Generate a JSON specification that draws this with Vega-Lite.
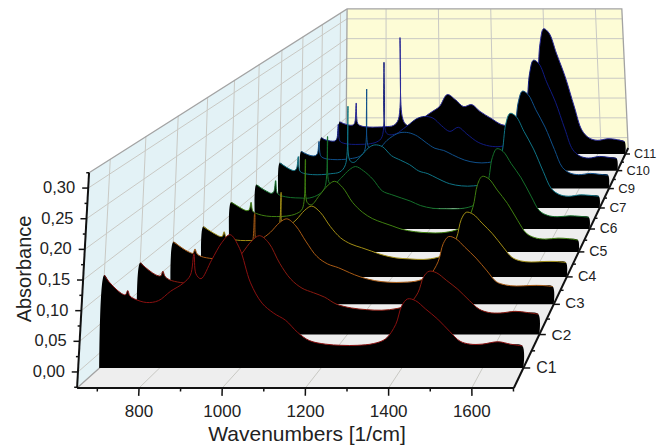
{"$schema":"https://vega.github.io/schema/vega-lite/v6.json","width":660,"height":447,"padding":0,"autosize":{"type":"none"},"background":"#ffffff","view":{"stroke":null},"config":{"text":{"font":"Liberation Sans"}},
"data":{"values":[
{"p":"left","w":651,"d":-0.55,"a":-0.0261},{"p":"left","w":651,"d":-0.55,"a":0.325},{"p":"left","w":651,"d":9.38,"a":0.325},{"p":"left","w":651,"d":9.38,"a":-0.0261},
{"p":"back","w":651,"d":9.38,"a":-0.0261},{"p":"back","w":651,"d":9.38,"a":0.325},{"p":"back","w":1701,"d":9.38,"a":0.325},{"p":"back","w":1701,"d":9.38,"a":-0.0261},
{"p":"floor","w":651,"d":-0.55,"a":-0.0261},{"p":"floor","w":1701,"d":-0.55,"a":-0.0261},{"p":"floor","w":1701,"d":9.38,"a":-0.0261},{"p":"floor","w":651,"d":9.38,"a":-0.0261},
{"p":"grid","id":"z0","w":651,"d":-0.55,"a":0},{"p":"grid","id":"z0","w":651,"d":9.38,"a":0},{"p":"grid","id":"z0","w":1701,"d":9.38,"a":0},
{"p":"grid","id":"z1","w":651,"d":-0.55,"a":0.05},{"p":"grid","id":"z1","w":651,"d":9.38,"a":0.05},{"p":"grid","id":"z1","w":1701,"d":9.38,"a":0.05},
{"p":"grid","id":"z2","w":651,"d":-0.55,"a":0.1},{"p":"grid","id":"z2","w":651,"d":9.38,"a":0.1},{"p":"grid","id":"z2","w":1701,"d":9.38,"a":0.1},
{"p":"grid","id":"z3","w":651,"d":-0.55,"a":0.15},{"p":"grid","id":"z3","w":651,"d":9.38,"a":0.15},{"p":"grid","id":"z3","w":1701,"d":9.38,"a":0.15},
{"p":"grid","id":"z4","w":651,"d":-0.55,"a":0.2},{"p":"grid","id":"z4","w":651,"d":9.38,"a":0.2},{"p":"grid","id":"z4","w":1701,"d":9.38,"a":0.2},
{"p":"grid","id":"z5","w":651,"d":-0.55,"a":0.25},{"p":"grid","id":"z5","w":651,"d":9.38,"a":0.25},{"p":"grid","id":"z5","w":1701,"d":9.38,"a":0.25},
{"p":"grid","id":"z6","w":651,"d":-0.55,"a":0.3},{"p":"grid","id":"z6","w":651,"d":9.38,"a":0.3},{"p":"grid","id":"z6","w":1701,"d":9.38,"a":0.3},
{"p":"grid","id":"d0","w":651,"d":0,"a":-0.0261},{"p":"grid","id":"d0","w":651,"d":0,"a":0.325},
{"p":"grid","id":"d1","w":651,"d":1,"a":-0.0261},{"p":"grid","id":"d1","w":651,"d":1,"a":0.325},
{"p":"grid","id":"d2","w":651,"d":2,"a":-0.0261},{"p":"grid","id":"d2","w":651,"d":2,"a":0.325},
{"p":"grid","id":"d3","w":651,"d":3,"a":-0.0261},{"p":"grid","id":"d3","w":651,"d":3,"a":0.325},
{"p":"grid","id":"d4","w":651,"d":4,"a":-0.0261},{"p":"grid","id":"d4","w":651,"d":4,"a":0.325},
{"p":"grid","id":"d5","w":651,"d":5,"a":-0.0261},{"p":"grid","id":"d5","w":651,"d":5,"a":0.325},
{"p":"grid","id":"d6","w":651,"d":6,"a":-0.0261},{"p":"grid","id":"d6","w":651,"d":6,"a":0.325},
{"p":"grid","id":"d7","w":651,"d":7,"a":-0.0261},{"p":"grid","id":"d7","w":651,"d":7,"a":0.325},
{"p":"grid","id":"d8","w":651,"d":8,"a":-0.0261},{"p":"grid","id":"d8","w":651,"d":8,"a":0.325},
{"p":"grid","id":"d9","w":651,"d":9,"a":-0.0261},{"p":"grid","id":"d9","w":651,"d":9,"a":0.325},
{"p":"grid","id":"w8","w":800,"d":-0.55,"a":-0.0261},{"p":"grid","id":"w8","w":800,"d":9.38,"a":-0.0261},{"p":"grid","id":"w8","w":800,"d":9.38,"a":0.325},
{"p":"grid","id":"w10","w":1000,"d":-0.55,"a":-0.0261},{"p":"grid","id":"w10","w":1000,"d":9.38,"a":-0.0261},{"p":"grid","id":"w10","w":1000,"d":9.38,"a":0.325},
{"p":"grid","id":"w12","w":1200,"d":-0.55,"a":-0.0261},{"p":"grid","id":"w12","w":1200,"d":9.38,"a":-0.0261},{"p":"grid","id":"w12","w":1200,"d":9.38,"a":0.325},
{"p":"grid","id":"w14","w":1400,"d":-0.55,"a":-0.0261},{"p":"grid","id":"w14","w":1400,"d":9.38,"a":-0.0261},{"p":"grid","id":"w14","w":1400,"d":9.38,"a":0.325},
{"p":"grid","id":"w16","w":1600,"d":-0.55,"a":-0.0261},{"p":"grid","id":"w16","w":1600,"d":9.38,"a":-0.0261},{"p":"grid","id":"w16","w":1600,"d":9.38,"a":0.325},
{"p":"edge","id":"e1","w":651,"d":-0.55,"a":0.325},{"p":"edge","id":"e1","w":651,"d":9.38,"a":0.325},{"p":"edge","id":"e1","w":1701,"d":9.38,"a":0.325},{"p":"edge","id":"e1","w":1701,"d":9.38,"a":-0.0261},
{"p":"edge","id":"e2","w":651,"d":-0.55,"a":-0.0261},{"p":"edge","id":"e2","w":651,"d":9.38,"a":-0.0261},{"p":"edge","id":"e2","w":651,"d":9.38,"a":0.325},
{"p":"axis","id":"ay","w":651,"d":-0.55,"a":-0.0261},{"p":"axis","id":"ay","w":651,"d":-0.55,"a":0.325},
{"p":"axis","id":"ax","w":651,"d":-0.55,"a":-0.0261},{"p":"axis","id":"ax","w":1701,"d":-0.55,"a":-0.0261},
{"p":"axis","id":"az","w":1701,"d":-0.55,"a":-0.0261},{"p":"axis","id":"az","w":1701,"d":9.38,"a":-0.0261},
{"p":"tick","id":"y0","w":651,"d":-0.55,"a":0},{"p":"tick","id":"y0","w":636,"d":-0.55,"a":0},
{"p":"tick","id":"y1","w":651,"d":-0.55,"a":0.05},{"p":"tick","id":"y1","w":636,"d":-0.55,"a":0.05},
{"p":"tick","id":"y2","w":651,"d":-0.55,"a":0.1},{"p":"tick","id":"y2","w":636,"d":-0.55,"a":0.1},
{"p":"tick","id":"y3","w":651,"d":-0.55,"a":0.15},{"p":"tick","id":"y3","w":636,"d":-0.55,"a":0.15},
{"p":"tick","id":"y4","w":651,"d":-0.55,"a":0.2},{"p":"tick","id":"y4","w":636,"d":-0.55,"a":0.2},
{"p":"tick","id":"y5","w":651,"d":-0.55,"a":0.25},{"p":"tick","id":"y5","w":636,"d":-0.55,"a":0.25},
{"p":"tick","id":"y6","w":651,"d":-0.55,"a":0.3},{"p":"tick","id":"y6","w":636,"d":-0.55,"a":0.3},
{"p":"tick","id":"ym0","w":651,"d":-0.55,"a":-0.025},{"p":"tick","id":"ym0","w":644,"d":-0.55,"a":-0.025},
{"p":"tick","id":"ym1","w":651,"d":-0.55,"a":0.025},{"p":"tick","id":"ym1","w":644,"d":-0.55,"a":0.025},
{"p":"tick","id":"ym2","w":651,"d":-0.55,"a":0.075},{"p":"tick","id":"ym2","w":644,"d":-0.55,"a":0.075},
{"p":"tick","id":"ym3","w":651,"d":-0.55,"a":0.125},{"p":"tick","id":"ym3","w":644,"d":-0.55,"a":0.125},
{"p":"tick","id":"ym4","w":651,"d":-0.55,"a":0.175},{"p":"tick","id":"ym4","w":644,"d":-0.55,"a":0.175},
{"p":"tick","id":"ym5","w":651,"d":-0.55,"a":0.225},{"p":"tick","id":"ym5","w":644,"d":-0.55,"a":0.225},
{"p":"tick","id":"ym6","w":651,"d":-0.55,"a":0.275},{"p":"tick","id":"ym6","w":644,"d":-0.55,"a":0.275},
{"p":"tick","id":"ym7","w":651,"d":-0.55,"a":0.325},{"p":"tick","id":"ym7","w":644,"d":-0.55,"a":0.325},
{"p":"tick","id":"x7","w":700,"d":-0.55,"a":-0.0261},{"p":"tick","id":"x7","w":700,"d":-0.55,"a":-0.032},
{"p":"tick","id":"x8","w":800,"d":-0.55,"a":-0.0261},{"p":"tick","id":"x8","w":800,"d":-0.55,"a":-0.039},
{"p":"tick","id":"x9","w":900,"d":-0.55,"a":-0.0261},{"p":"tick","id":"x9","w":900,"d":-0.55,"a":-0.032},
{"p":"tick","id":"x10","w":1000,"d":-0.55,"a":-0.0261},{"p":"tick","id":"x10","w":1000,"d":-0.55,"a":-0.039},
{"p":"tick","id":"x11","w":1100,"d":-0.55,"a":-0.0261},{"p":"tick","id":"x11","w":1100,"d":-0.55,"a":-0.032},
{"p":"tick","id":"x12","w":1200,"d":-0.55,"a":-0.0261},{"p":"tick","id":"x12","w":1200,"d":-0.55,"a":-0.039},
{"p":"tick","id":"x13","w":1300,"d":-0.55,"a":-0.0261},{"p":"tick","id":"x13","w":1300,"d":-0.55,"a":-0.032},
{"p":"tick","id":"x14","w":1400,"d":-0.55,"a":-0.0261},{"p":"tick","id":"x14","w":1400,"d":-0.55,"a":-0.039},
{"p":"tick","id":"x15","w":1500,"d":-0.55,"a":-0.0261},{"p":"tick","id":"x15","w":1500,"d":-0.55,"a":-0.032},
{"p":"tick","id":"x16","w":1600,"d":-0.55,"a":-0.0261},{"p":"tick","id":"x16","w":1600,"d":-0.55,"a":-0.039},
{"p":"tick","id":"x17","w":1700,"d":-0.55,"a":-0.0261},{"p":"tick","id":"x17","w":1700,"d":-0.55,"a":-0.032},
{"p":"tick","id":"c0","w":1701,"d":0,"a":-0.0261},{"p":"tick","id":"c0","w":1718,"d":0,"a":-0.0261},
{"p":"tick","id":"c1","w":1701,"d":1,"a":-0.0261},{"p":"tick","id":"c1","w":1718,"d":1,"a":-0.0261},
{"p":"tick","id":"c2","w":1701,"d":2,"a":-0.0261},{"p":"tick","id":"c2","w":1718,"d":2,"a":-0.0261},
{"p":"tick","id":"c3","w":1701,"d":3,"a":-0.0261},{"p":"tick","id":"c3","w":1718,"d":3,"a":-0.0261},
{"p":"tick","id":"c4","w":1701,"d":4,"a":-0.0261},{"p":"tick","id":"c4","w":1718,"d":4,"a":-0.0261},
{"p":"tick","id":"c5","w":1701,"d":5,"a":-0.0261},{"p":"tick","id":"c5","w":1718,"d":5,"a":-0.0261},
{"p":"tick","id":"c6","w":1701,"d":6,"a":-0.0261},{"p":"tick","id":"c6","w":1718,"d":6,"a":-0.0261},
{"p":"tick","id":"c7","w":1701,"d":7,"a":-0.0261},{"p":"tick","id":"c7","w":1718,"d":7,"a":-0.0261},
{"p":"tick","id":"c8","w":1701,"d":8,"a":-0.0261},{"p":"tick","id":"c8","w":1718,"d":8,"a":-0.0261},
{"p":"tick","id":"c9","w":1701,"d":9,"a":-0.0261},{"p":"tick","id":"c9","w":1718,"d":9,"a":-0.0261},
{"p":"tick","id":"m0","w":1701,"d":0.5,"a":-0.0261},{"p":"tick","id":"m0","w":1710,"d":0.5,"a":-0.0261},
{"p":"tick","id":"m1","w":1701,"d":1.5,"a":-0.0261},{"p":"tick","id":"m1","w":1710,"d":1.5,"a":-0.0261},
{"p":"tick","id":"m2","w":1701,"d":2.5,"a":-0.0261},{"p":"tick","id":"m2","w":1710,"d":2.5,"a":-0.0261},
{"p":"tick","id":"m3","w":1701,"d":3.5,"a":-0.0261},{"p":"tick","id":"m3","w":1710,"d":3.5,"a":-0.0261},
{"p":"tick","id":"m4","w":1701,"d":4.5,"a":-0.0261},{"p":"tick","id":"m4","w":1710,"d":4.5,"a":-0.0261},
{"p":"tick","id":"m5","w":1701,"d":5.5,"a":-0.0261},{"p":"tick","id":"m5","w":1710,"d":5.5,"a":-0.0261},
{"p":"tick","id":"m6","w":1701,"d":6.5,"a":-0.0261},{"p":"tick","id":"m6","w":1710,"d":6.5,"a":-0.0261},
{"p":"tick","id":"m7","w":1701,"d":7.5,"a":-0.0261},{"p":"tick","id":"m7","w":1710,"d":7.5,"a":-0.0261},
{"p":"tick","id":"m8","w":1701,"d":8.5,"a":-0.0261},{"p":"tick","id":"m8","w":1710,"d":8.5,"a":-0.0261},
{"p":"yl","t":"0,00","w":651,"d":-0.55,"a":0},{"p":"yl","t":"0,05","w":651,"d":-0.55,"a":0.05},{"p":"yl","t":"0,10","w":651,"d":-0.55,"a":0.1},{"p":"yl","t":"0,15","w":651,"d":-0.55,"a":0.15},{"p":"yl","t":"0,20","w":651,"d":-0.55,"a":0.2},{"p":"yl","t":"0,25","w":651,"d":-0.55,"a":0.25},{"p":"yl","t":"0,30","w":651,"d":-0.55,"a":0.3},
{"p":"xl","t":"800","w":800,"d":-0.55,"a":-0.0261},{"p":"xl","t":"1000","w":1000,"d":-0.55,"a":-0.0261},{"p":"xl","t":"1200","w":1200,"d":-0.55,"a":-0.0261},{"p":"xl","t":"1400","w":1400,"d":-0.55,"a":-0.0261},{"p":"xl","t":"1600","w":1600,"d":-0.55,"a":-0.0261},
{"p":"zl","t":"C1","w":1733,"d":0,"a":-0.0261},{"p":"zl","t":"C2","w":1733,"d":1,"a":-0.0261},{"p":"zl","t":"C3","w":1733,"d":2,"a":-0.0261},{"p":"zl","t":"C4","w":1733,"d":3,"a":-0.0261},{"p":"zl","t":"C5","w":1733,"d":4,"a":-0.0261},{"p":"zl","t":"C6","w":1733,"d":5,"a":-0.0261},{"p":"zl","t":"C7","w":1733,"d":6,"a":-0.0261},{"p":"zl","t":"C9","w":1733,"d":7,"a":-0.0261},{"p":"zl","t":"C10","w":1733,"d":8,"a":-0.0261},{"p":"zl","t":"C11","w":1733,"d":9,"a":-0.0261},
{"p":"xt","t":"Wavenumbers [1/cm]","w":1204,"d":-0.55,"a":-0.0261},
{"p":"yt","t":"Absorbance","w":651,"d":-0.55,"a":0.168},
{"c":"C1","w":650.9,"a":-0.0261},{"c":"C1","w":651,"a":0.13},{"c":"C1","w":665,"a":0.118},{"c":"C1","w":685,"a":0.105},{"c":"C1","w":700,"a":0.098},{"c":"C1","w":707,"a":0.097},{"c":"C1","w":712,"a":0.104},{"c":"C1","w":718,"a":0.095},{"c":"C1","w":730,"a":0.09},{"c":"C1","w":760,"a":0.084},{"c":"C1","w":790,"a":0.087},{"c":"C1","w":820,"a":0.103},{"c":"C1","w":850,"a":0.116},{"c":"C1","w":868,"a":0.13},{"c":"C1","w":875,"a":0.166},{"c":"C1","w":882,"a":0.132},{"c":"C1","w":895,"a":0.124},{"c":"C1","w":920,"a":0.155},{"c":"C1","w":945,"a":0.185},{"c":"C1","w":965,"a":0.198},{"c":"C1","w":990,"a":0.175},{"c":"C1","w":1020,"a":0.117},{"c":"C1","w":1050,"a":0.083},{"c":"C1","w":1080,"a":0.066},{"c":"C1","w":1110,"a":0.054},{"c":"C1","w":1140,"a":0.034},{"c":"C1","w":1170,"a":0.02},{"c":"C1","w":1210,"a":0.014},{"c":"C1","w":1250,"a":0.012},{"c":"C1","w":1290,"a":0.012},{"c":"C1","w":1330,"a":0.015},{"c":"C1","w":1360,"a":0.023},{"c":"C1","w":1385,"a":0.047},{"c":"C1","w":1400,"a":0.078},{"c":"C1","w":1415,"a":0.09},{"c":"C1","w":1435,"a":0.087},{"c":"C1","w":1460,"a":0.073},{"c":"C1","w":1490,"a":0.056},{"c":"C1","w":1520,"a":0.035},{"c":"C1","w":1545,"a":0.019},{"c":"C1","w":1570,"a":0.014},{"c":"C1","w":1600,"a":0.014},{"c":"C1","w":1640,"a":0.018},{"c":"C1","w":1670,"a":0.014},{"c":"C1","w":1700,"a":0.011},{"c":"C1","w":1701,"a":-0.0261},
{"c":"C2","w":650.9,"a":-0.0261},{"c":"C2","w":651,"a":0.101},{"c":"C2","w":665,"a":0.093},{"c":"C2","w":685,"a":0.083},{"c":"C2","w":700,"a":0.078},{"c":"C2","w":707,"a":0.078},{"c":"C2","w":712,"a":0.086},{"c":"C2","w":718,"a":0.077},{"c":"C2","w":730,"a":0.071},{"c":"C2","w":760,"a":0.066},{"c":"C2","w":790,"a":0.065},{"c":"C2","w":820,"a":0.071},{"c":"C2","w":850,"a":0.08},{"c":"C2","w":868,"a":0.09},{"c":"C2","w":875,"a":0.134},{"c":"C2","w":882,"a":0.095},{"c":"C2","w":895,"a":0.095},{"c":"C2","w":920,"a":0.118},{"c":"C2","w":945,"a":0.14},{"c":"C2","w":965,"a":0.149},{"c":"C2","w":990,"a":0.136},{"c":"C2","w":1020,"a":0.1},{"c":"C2","w":1050,"a":0.072},{"c":"C2","w":1080,"a":0.056},{"c":"C2","w":1110,"a":0.048},{"c":"C2","w":1140,"a":0.04},{"c":"C2","w":1170,"a":0.028},{"c":"C2","w":1210,"a":0.021},{"c":"C2","w":1250,"a":0.018},{"c":"C2","w":1290,"a":0.017},{"c":"C2","w":1330,"a":0.02},{"c":"C2","w":1360,"a":0.027},{"c":"C2","w":1385,"a":0.048},{"c":"C2","w":1400,"a":0.076},{"c":"C2","w":1415,"a":0.086},{"c":"C2","w":1435,"a":0.083},{"c":"C2","w":1460,"a":0.07},{"c":"C2","w":1490,"a":0.054},{"c":"C2","w":1520,"a":0.034},{"c":"C2","w":1545,"a":0.019},{"c":"C2","w":1570,"a":0.013},{"c":"C2","w":1600,"a":0.012},{"c":"C2","w":1640,"a":0.015},{"c":"C2","w":1670,"a":0.013},{"c":"C2","w":1700,"a":0.01},{"c":"C2","w":1701,"a":-0.0261},
{"c":"C3","w":650.9,"a":-0.0261},{"c":"C3","w":651,"a":0.09},{"c":"C3","w":665,"a":0.084},{"c":"C3","w":685,"a":0.075},{"c":"C3","w":700,"a":0.07},{"c":"C3","w":707,"a":0.069},{"c":"C3","w":712,"a":0.077},{"c":"C3","w":718,"a":0.068},{"c":"C3","w":730,"a":0.063},{"c":"C3","w":760,"a":0.059},{"c":"C3","w":790,"a":0.058},{"c":"C3","w":820,"a":0.06},{"c":"C3","w":850,"a":0.067},{"c":"C3","w":868,"a":0.08},{"c":"C3","w":875,"a":0.143},{"c":"C3","w":882,"a":0.09},{"c":"C3","w":895,"a":0.095},{"c":"C3","w":920,"a":0.108},{"c":"C3","w":945,"a":0.126},{"c":"C3","w":965,"a":0.133},{"c":"C3","w":990,"a":0.12},{"c":"C3","w":1020,"a":0.09},{"c":"C3","w":1050,"a":0.063},{"c":"C3","w":1080,"a":0.049},{"c":"C3","w":1110,"a":0.042},{"c":"C3","w":1140,"a":0.033},{"c":"C3","w":1170,"a":0.025},{"c":"C3","w":1210,"a":0.018},{"c":"C3","w":1250,"a":0.015},{"c":"C3","w":1290,"a":0.015},{"c":"C3","w":1330,"a":0.018},{"c":"C3","w":1360,"a":0.027},{"c":"C3","w":1385,"a":0.053},{"c":"C3","w":1400,"a":0.087},{"c":"C3","w":1415,"a":0.1},{"c":"C3","w":1435,"a":0.096},{"c":"C3","w":1460,"a":0.08},{"c":"C3","w":1490,"a":0.06},{"c":"C3","w":1520,"a":0.036},{"c":"C3","w":1545,"a":0.016},{"c":"C3","w":1570,"a":0.01},{"c":"C3","w":1600,"a":0.008},{"c":"C3","w":1640,"a":0.009},{"c":"C3","w":1670,"a":0.009},{"c":"C3","w":1700,"a":0.007},{"c":"C3","w":1701,"a":-0.0261},
{"c":"C4","w":650.9,"a":-0.0261},{"c":"C4","w":651,"a":0.072},{"c":"C4","w":665,"a":0.066},{"c":"C4","w":685,"a":0.058},{"c":"C4","w":700,"a":0.053},{"c":"C4","w":707,"a":0.053},{"c":"C4","w":712,"a":0.062},{"c":"C4","w":718,"a":0.052},{"c":"C4","w":730,"a":0.048},{"c":"C4","w":760,"a":0.045},{"c":"C4","w":790,"a":0.045},{"c":"C4","w":820,"a":0.046},{"c":"C4","w":850,"a":0.052},{"c":"C4","w":868,"a":0.062},{"c":"C4","w":875,"a":0.139},{"c":"C4","w":882,"a":0.07},{"c":"C4","w":895,"a":0.072},{"c":"C4","w":920,"a":0.085},{"c":"C4","w":945,"a":0.104},{"c":"C4","w":965,"a":0.112},{"c":"C4","w":990,"a":0.1},{"c":"C4","w":1020,"a":0.072},{"c":"C4","w":1050,"a":0.05},{"c":"C4","w":1080,"a":0.038},{"c":"C4","w":1110,"a":0.031},{"c":"C4","w":1140,"a":0.024},{"c":"C4","w":1170,"a":0.017},{"c":"C4","w":1210,"a":0.011},{"c":"C4","w":1250,"a":0.009},{"c":"C4","w":1290,"a":0.008},{"c":"C4","w":1330,"a":0.012},{"c":"C4","w":1360,"a":0.021},{"c":"C4","w":1385,"a":0.049},{"c":"C4","w":1400,"a":0.086},{"c":"C4","w":1415,"a":0.1},{"c":"C4","w":1435,"a":0.096},{"c":"C4","w":1460,"a":0.079},{"c":"C4","w":1490,"a":0.058},{"c":"C4","w":1520,"a":0.032},{"c":"C4","w":1545,"a":0.012},{"c":"C4","w":1570,"a":0.005},{"c":"C4","w":1600,"a":0.003},{"c":"C4","w":1640,"a":0.004},{"c":"C4","w":1670,"a":0.004},{"c":"C4","w":1700,"a":0.002},{"c":"C4","w":1701,"a":-0.0261},
{"c":"C5","w":650.9,"a":-0.0261},{"c":"C5","w":651,"a":0.075},{"c":"C5","w":665,"a":0.07},{"c":"C5","w":685,"a":0.062},{"c":"C5","w":700,"a":0.058},{"c":"C5","w":707,"a":0.06},{"c":"C5","w":712,"a":0.075},{"c":"C5","w":718,"a":0.057},{"c":"C5","w":730,"a":0.052},{"c":"C5","w":760,"a":0.047},{"c":"C5","w":790,"a":0.046},{"c":"C5","w":820,"a":0.047},{"c":"C5","w":850,"a":0.052},{"c":"C5","w":868,"a":0.062},{"c":"C5","w":875,"a":0.163},{"c":"C5","w":882,"a":0.075},{"c":"C5","w":895,"a":0.07},{"c":"C5","w":920,"a":0.09},{"c":"C5","w":945,"a":0.11},{"c":"C5","w":965,"a":0.118},{"c":"C5","w":990,"a":0.105},{"c":"C5","w":1020,"a":0.075},{"c":"C5","w":1050,"a":0.055},{"c":"C5","w":1080,"a":0.042},{"c":"C5","w":1110,"a":0.034},{"c":"C5","w":1140,"a":0.027},{"c":"C5","w":1170,"a":0.02},{"c":"C5","w":1210,"a":0.015},{"c":"C5","w":1250,"a":0.013},{"c":"C5","w":1290,"a":0.013},{"c":"C5","w":1330,"a":0.018},{"c":"C5","w":1360,"a":0.029},{"c":"C5","w":1385,"a":0.065},{"c":"C5","w":1400,"a":0.111},{"c":"C5","w":1415,"a":0.128},{"c":"C5","w":1435,"a":0.123},{"c":"C5","w":1460,"a":0.1},{"c":"C5","w":1490,"a":0.073},{"c":"C5","w":1520,"a":0.038},{"c":"C5","w":1545,"a":0.012},{"c":"C5","w":1570,"a":0.003},{"c":"C5","w":1600,"a":0},{"c":"C5","w":1640,"a":0.002},{"c":"C5","w":1670,"a":0.001},{"c":"C5","w":1700,"a":-0.002},{"c":"C5","w":1701,"a":-0.0261},
{"c":"C6","w":650.9,"a":-0.0261},{"c":"C6","w":651,"a":0.068},{"c":"C6","w":665,"a":0.062},{"c":"C6","w":685,"a":0.054},{"c":"C6","w":700,"a":0.05},{"c":"C6","w":707,"a":0.054},{"c":"C6","w":712,"a":0.077},{"c":"C6","w":718,"a":0.05},{"c":"C6","w":730,"a":0.045},{"c":"C6","w":760,"a":0.041},{"c":"C6","w":790,"a":0.04},{"c":"C6","w":820,"a":0.04},{"c":"C6","w":850,"a":0.048},{"c":"C6","w":868,"a":0.062},{"c":"C6","w":875,"a":0.171},{"c":"C6","w":882,"a":0.072},{"c":"C6","w":895,"a":0.068},{"c":"C6","w":920,"a":0.083},{"c":"C6","w":945,"a":0.1},{"c":"C6","w":965,"a":0.107},{"c":"C6","w":990,"a":0.098},{"c":"C6","w":1020,"a":0.08},{"c":"C6","w":1050,"a":0.055},{"c":"C6","w":1080,"a":0.047},{"c":"C6","w":1110,"a":0.04},{"c":"C6","w":1140,"a":0.033},{"c":"C6","w":1170,"a":0.024},{"c":"C6","w":1210,"a":0.018},{"c":"C6","w":1250,"a":0.017},{"c":"C6","w":1290,"a":0.017},{"c":"C6","w":1330,"a":0.022},{"c":"C6","w":1360,"a":0.035},{"c":"C6","w":1385,"a":0.075},{"c":"C6","w":1400,"a":0.126},{"c":"C6","w":1415,"a":0.145},{"c":"C6","w":1435,"a":0.139},{"c":"C6","w":1460,"a":0.113},{"c":"C6","w":1490,"a":0.083},{"c":"C6","w":1520,"a":0.044},{"c":"C6","w":1545,"a":0.013},{"c":"C6","w":1570,"a":0.003},{"c":"C6","w":1600,"a":0},{"c":"C6","w":1640,"a":0.002},{"c":"C6","w":1670,"a":0.001},{"c":"C6","w":1700,"a":-0.001},{"c":"C6","w":1701,"a":-0.0261},
{"c":"C7","w":650.9,"a":-0.0261},{"c":"C7","w":651,"a":0.074},{"c":"C7","w":665,"a":0.068},{"c":"C7","w":685,"a":0.06},{"c":"C7","w":700,"a":0.057},{"c":"C7","w":707,"a":0.062},{"c":"C7","w":712,"a":0.088},{"c":"C7","w":718,"a":0.056},{"c":"C7","w":730,"a":0.051},{"c":"C7","w":760,"a":0.048},{"c":"C7","w":790,"a":0.048},{"c":"C7","w":820,"a":0.05},{"c":"C7","w":850,"a":0.054},{"c":"C7","w":868,"a":0.07},{"c":"C7","w":875,"a":0.2},{"c":"C7","w":882,"a":0.08},{"c":"C7","w":895,"a":0.075},{"c":"C7","w":920,"a":0.09},{"c":"C7","w":945,"a":0.108},{"c":"C7","w":965,"a":0.114},{"c":"C7","w":990,"a":0.11},{"c":"C7","w":1020,"a":0.09},{"c":"C7","w":1050,"a":0.08},{"c":"C7","w":1080,"a":0.07},{"c":"C7","w":1110,"a":0.056},{"c":"C7","w":1140,"a":0.05},{"c":"C7","w":1170,"a":0.04},{"c":"C7","w":1210,"a":0.028},{"c":"C7","w":1250,"a":0.023},{"c":"C7","w":1290,"a":0.023},{"c":"C7","w":1330,"a":0.029},{"c":"C7","w":1360,"a":0.046},{"c":"C7","w":1385,"a":0.095},{"c":"C7","w":1400,"a":0.16},{"c":"C7","w":1415,"a":0.184},{"c":"C7","w":1435,"a":0.177},{"c":"C7","w":1460,"a":0.144},{"c":"C7","w":1490,"a":0.105},{"c":"C7","w":1520,"a":0.055},{"c":"C7","w":1545,"a":0.017},{"c":"C7","w":1570,"a":0.004},{"c":"C7","w":1600,"a":0},{"c":"C7","w":1640,"a":0.003},{"c":"C7","w":1670,"a":0.002},{"c":"C7","w":1700,"a":0},{"c":"C7","w":1701,"a":-0.0261},
{"c":"C9","w":650.9,"a":-0.0261},{"c":"C9","w":651,"a":0.06},{"c":"C9","w":665,"a":0.055},{"c":"C9","w":685,"a":0.05},{"c":"C9","w":700,"a":0.05},{"c":"C9","w":707,"a":0.055},{"c":"C9","w":712,"a":0.083},{"c":"C9","w":718,"a":0.05},{"c":"C9","w":730,"a":0.044},{"c":"C9","w":760,"a":0.041},{"c":"C9","w":790,"a":0.041},{"c":"C9","w":820,"a":0.043},{"c":"C9","w":850,"a":0.048},{"c":"C9","w":868,"a":0.06},{"c":"C9","w":875,"a":0.204},{"c":"C9","w":882,"a":0.07},{"c":"C9","w":895,"a":0.066},{"c":"C9","w":920,"a":0.068},{"c":"C9","w":945,"a":0.085},{"c":"C9","w":965,"a":0.095},{"c":"C9","w":990,"a":0.103},{"c":"C9","w":1020,"a":0.103},{"c":"C9","w":1050,"a":0.095},{"c":"C9","w":1080,"a":0.08},{"c":"C9","w":1110,"a":0.067},{"c":"C9","w":1140,"a":0.062},{"c":"C9","w":1170,"a":0.052},{"c":"C9","w":1210,"a":0.04},{"c":"C9","w":1250,"a":0.034},{"c":"C9","w":1290,"a":0.034},{"c":"C9","w":1330,"a":0.041},{"c":"C9","w":1360,"a":0.057},{"c":"C9","w":1385,"a":0.108},{"c":"C9","w":1400,"a":0.174},{"c":"C9","w":1415,"a":0.199},{"c":"C9","w":1435,"a":0.191},{"c":"C9","w":1460,"a":0.156},{"c":"C9","w":1490,"a":0.116},{"c":"C9","w":1520,"a":0.064},{"c":"C9","w":1545,"a":0.023},{"c":"C9","w":1570,"a":0.01},{"c":"C9","w":1600,"a":0.006},{"c":"C9","w":1640,"a":0.009},{"c":"C9","w":1670,"a":0.007},{"c":"C9","w":1700,"a":0.005},{"c":"C9","w":1701,"a":-0.0261},
{"c":"C10","w":650.9,"a":-0.0261},{"c":"C10","w":651,"a":0.053},{"c":"C10","w":665,"a":0.048},{"c":"C10","w":685,"a":0.045},{"c":"C10","w":700,"a":0.045},{"c":"C10","w":707,"a":0.05},{"c":"C10","w":712,"a":0.085},{"c":"C10","w":718,"a":0.045},{"c":"C10","w":730,"a":0.04},{"c":"C10","w":760,"a":0.037},{"c":"C10","w":790,"a":0.037},{"c":"C10","w":820,"a":0.038},{"c":"C10","w":850,"a":0.043},{"c":"C10","w":868,"a":0.055},{"c":"C10","w":875,"a":0.234},{"c":"C10","w":882,"a":0.066},{"c":"C10","w":895,"a":0.06},{"c":"C10","w":920,"a":0.063},{"c":"C10","w":945,"a":0.075},{"c":"C10","w":965,"a":0.085},{"c":"C10","w":990,"a":0.098},{"c":"C10","w":1020,"a":0.104},{"c":"C10","w":1050,"a":0.1},{"c":"C10","w":1080,"a":0.082},{"c":"C10","w":1110,"a":0.068},{"c":"C10","w":1140,"a":0.078},{"c":"C10","w":1170,"a":0.062},{"c":"C10","w":1210,"a":0.042},{"c":"C10","w":1250,"a":0.033},{"c":"C10","w":1290,"a":0.032},{"c":"C10","w":1330,"a":0.04},{"c":"C10","w":1360,"a":0.061},{"c":"C10","w":1385,"a":0.125},{"c":"C10","w":1400,"a":0.208},{"c":"C10","w":1415,"a":0.239},{"c":"C10","w":1435,"a":0.23},{"c":"C10","w":1460,"a":0.187},{"c":"C10","w":1490,"a":0.138},{"c":"C10","w":1520,"a":0.074},{"c":"C10","w":1545,"a":0.025},{"c":"C10","w":1570,"a":0.009},{"c":"C10","w":1600,"a":0.004},{"c":"C10","w":1640,"a":0.008},{"c":"C10","w":1670,"a":0.006},{"c":"C10","w":1700,"a":0.003},{"c":"C10","w":1701,"a":-0.0261},
{"c":"C11","w":650.9,"a":-0.0261},{"c":"C11","w":651,"a":0.054},{"c":"C11","w":665,"a":0.05},{"c":"C11","w":685,"a":0.046},{"c":"C11","w":700,"a":0.046},{"c":"C11","w":707,"a":0.052},{"c":"C11","w":712,"a":0.101},{"c":"C11","w":718,"a":0.05},{"c":"C11","w":730,"a":0.044},{"c":"C11","w":760,"a":0.041},{"c":"C11","w":790,"a":0.041},{"c":"C11","w":820,"a":0.042},{"c":"C11","w":850,"a":0.045},{"c":"C11","w":868,"a":0.06},{"c":"C11","w":875,"a":0.264},{"c":"C11","w":882,"a":0.068},{"c":"C11","w":895,"a":0.048},{"c":"C11","w":920,"a":0.041},{"c":"C11","w":945,"a":0.05},{"c":"C11","w":965,"a":0.066},{"c":"C11","w":990,"a":0.078},{"c":"C11","w":1020,"a":0.092},{"c":"C11","w":1050,"a":0.122},{"c":"C11","w":1080,"a":0.109},{"c":"C11","w":1110,"a":0.092},{"c":"C11","w":1140,"a":0.097},{"c":"C11","w":1170,"a":0.08},{"c":"C11","w":1210,"a":0.063},{"c":"C11","w":1250,"a":0.047},{"c":"C11","w":1290,"a":0.045},{"c":"C11","w":1330,"a":0.055},{"c":"C11","w":1360,"a":0.079},{"c":"C11","w":1385,"a":0.153},{"c":"C11","w":1400,"a":0.25},{"c":"C11","w":1415,"a":0.286},{"c":"C11","w":1435,"a":0.275},{"c":"C11","w":1460,"a":0.225},{"c":"C11","w":1490,"a":0.166},{"c":"C11","w":1520,"a":0.091},{"c":"C11","w":1545,"a":0.033},{"c":"C11","w":1570,"a":0.014},{"c":"C11","w":1600,"a":0.008},{"c":"C11","w":1640,"a":0.012},{"c":"C11","w":1670,"a":0.01},{"c":"C11","w":1700,"a":0.005},{"c":"C11","w":1701,"a":-0.0261}
]},
"transform":[
{"calculate":"isValid(datum.d)?datum.d:indexof(['C1','C2','C3','C4','C5','C6','C7','C9','C10','C11'],datum.c)","as":"dd"},
{"calculate":"1/(1+0.548*(0.0555+0.1007*datum.dd))","as":"s"},
{"calculate":"837+datum.s*(97.4+0.416*(datum.w-700)-837)","as":"x0"},
{"calculate":"-290+678*datum.s","as":"y0"},
{"calculate":"(datum.a+0.0261)*613*datum.s","as":"h"},
{"calculate":"datum.x0+(385-datum.x0)*datum.h/(datum.y0+5136)","as":"px"},
{"calculate":"datum.y0-datum.h","as":"py"},
{"calculate":"11*datum.s+5.3","as":"fs"}
],
"encoding":{
"x":{"field":"px","type":"quantitative","scale":{"domain":[0,660],"nice":false,"zero":false},"axis":null},
"y":{"field":"py","type":"quantitative","scale":{"domain":[447,0],"nice":false,"zero":false},"axis":null}
},
"layer":[
{"transform":[{"filter":"datum.p=='left'"}],"mark":{"type":"line","fill":"#e3f2f6","strokeWidth":0},"encoding":{"order":{"value":null}}},
{"transform":[{"filter":"datum.p=='back'"}],"mark":{"type":"line","fill":"#fdfcd6","strokeWidth":0},"encoding":{"order":{"value":null}}},
{"transform":[{"filter":"datum.p=='floor'"}],"mark":{"type":"line","fill":"#eeeeee","strokeWidth":0},"encoding":{"order":{"value":null}}},
{"transform":[{"filter":"datum.p=='grid'"}],"mark":{"type":"line","stroke":"#c9c9c4","strokeWidth":1},"encoding":{"detail":{"field":"id"},"order":{"value":null}}},
{"transform":[{"filter":"datum.p=='edge'"}],"mark":{"type":"line","stroke":"#a3a3a3","strokeWidth":1.3},"encoding":{"detail":{"field":"id"},"order":{"value":null}}},
{"transform":[{"filter":"datum.c=='C11'"}],"mark":{"type":"line","fill":"#000000","strokeWidth":0,"interpolate":"catmull-rom"},"encoding":{"order":{"field":"w","type":"quantitative"}}},
{"transform":[{"filter":"datum.c=='C11'&&datum.a>-0.02"}],"mark":{"type":"line","stroke":"#2a2a9a","strokeWidth":1,"interpolate":"catmull-rom"},"encoding":{"order":{"field":"w","type":"quantitative"}}},
{"transform":[{"filter":"datum.c=='C10'"}],"mark":{"type":"line","fill":"#000000","strokeWidth":0,"interpolate":"catmull-rom"},"encoding":{"order":{"field":"w","type":"quantitative"}}},
{"transform":[{"filter":"datum.c=='C10'&&datum.a>-0.02"}],"mark":{"type":"line","stroke":"#101a80","strokeWidth":1,"interpolate":"catmull-rom"},"encoding":{"order":{"field":"w","type":"quantitative"}}},
{"transform":[{"filter":"datum.c=='C9'"}],"mark":{"type":"line","fill":"#000000","strokeWidth":0,"interpolate":"catmull-rom"},"encoding":{"order":{"field":"w","type":"quantitative"}}},
{"transform":[{"filter":"datum.c=='C9'&&datum.a>-0.02"}],"mark":{"type":"line","stroke":"#0f4f8a","strokeWidth":1,"interpolate":"catmull-rom"},"encoding":{"order":{"field":"w","type":"quantitative"}}},
{"transform":[{"filter":"datum.c=='C7'"}],"mark":{"type":"line","fill":"#000000","strokeWidth":0,"interpolate":"catmull-rom"},"encoding":{"order":{"field":"w","type":"quantitative"}}},
{"transform":[{"filter":"datum.c=='C7'&&datum.a>-0.02"}],"mark":{"type":"line","stroke":"#0e7486","strokeWidth":1,"interpolate":"catmull-rom"},"encoding":{"order":{"field":"w","type":"quantitative"}}},
{"transform":[{"filter":"datum.c=='C6'"}],"mark":{"type":"line","fill":"#000000","strokeWidth":0,"interpolate":"catmull-rom"},"encoding":{"order":{"field":"w","type":"quantitative"}}},
{"transform":[{"filter":"datum.c=='C6'&&datum.a>-0.02"}],"mark":{"type":"line","stroke":"#146f2a","strokeWidth":1,"interpolate":"catmull-rom"},"encoding":{"order":{"field":"w","type":"quantitative"}}},
{"transform":[{"filter":"datum.c=='C5'"}],"mark":{"type":"line","fill":"#000000","strokeWidth":0,"interpolate":"catmull-rom"},"encoding":{"order":{"field":"w","type":"quantitative"}}},
{"transform":[{"filter":"datum.c=='C5'&&datum.a>-0.02"}],"mark":{"type":"line","stroke":"#3f7f10","strokeWidth":1,"interpolate":"catmull-rom"},"encoding":{"order":{"field":"w","type":"quantitative"}}},
{"transform":[{"filter":"datum.c=='C4'"}],"mark":{"type":"line","fill":"#000000","strokeWidth":0,"interpolate":"catmull-rom"},"encoding":{"order":{"field":"w","type":"quantitative"}}},
{"transform":[{"filter":"datum.c=='C4'&&datum.a>-0.02"}],"mark":{"type":"line","stroke":"#a08c14","strokeWidth":1,"interpolate":"catmull-rom"},"encoding":{"order":{"field":"w","type":"quantitative"}}},
{"transform":[{"filter":"datum.c=='C3'"}],"mark":{"type":"line","fill":"#000000","strokeWidth":0,"interpolate":"catmull-rom"},"encoding":{"order":{"field":"w","type":"quantitative"}}},
{"transform":[{"filter":"datum.c=='C3'&&datum.a>-0.02"}],"mark":{"type":"line","stroke":"#a85a14","strokeWidth":1,"interpolate":"catmull-rom"},"encoding":{"order":{"field":"w","type":"quantitative"}}},
{"transform":[{"filter":"datum.c=='C2'"}],"mark":{"type":"line","fill":"#000000","strokeWidth":0,"interpolate":"catmull-rom"},"encoding":{"order":{"field":"w","type":"quantitative"}}},
{"transform":[{"filter":"datum.c=='C2'&&datum.a>-0.02"}],"mark":{"type":"line","stroke":"#8a1a10","strokeWidth":1,"interpolate":"catmull-rom"},"encoding":{"order":{"field":"w","type":"quantitative"}}},
{"transform":[{"filter":"datum.c=='C1'"}],"mark":{"type":"line","fill":"#000000","strokeWidth":0,"interpolate":"catmull-rom"},"encoding":{"order":{"field":"w","type":"quantitative"}}},
{"transform":[{"filter":"datum.c=='C1'&&datum.a>-0.02"}],"mark":{"type":"line","stroke":"#8a1010","strokeWidth":1,"interpolate":"catmull-rom"},"encoding":{"order":{"field":"w","type":"quantitative"}}},
{"transform":[{"filter":"datum.p=='axis'"}],"mark":{"type":"line","stroke":"#111111","strokeWidth":2},"encoding":{"detail":{"field":"id"},"order":{"value":null}}},
{"transform":[{"filter":"datum.p=='tick'"}],"mark":{"type":"line","stroke":"#111111","strokeWidth":1.5},"encoding":{"detail":{"field":"id"},"order":{"value":null}}},
{"transform":[{"filter":"datum.p=='yl'"}],"mark":{"type":"text","align":"right","baseline":"middle","fontSize":16.5,"xOffset":-13,"fill":"#222222"},"encoding":{"text":{"field":"t"}}},
{"transform":[{"filter":"datum.p=='xl'"}],"mark":{"type":"text","align":"center","baseline":"middle","fontSize":17,"yOffset":24,"fill":"#222222"},"encoding":{"text":{"field":"t"}}},
{"transform":[{"filter":"datum.p=='zl'"}],"mark":{"type":"text","align":"left","baseline":"middle","fill":"#222222"},"encoding":{"text":{"field":"t"},"size":{"field":"fs","type":"quantitative","scale":null}}},
{"transform":[{"filter":"datum.p=='xt'"}],"mark":{"type":"text","align":"center","baseline":"middle","fontSize":21,"yOffset":47,"fill":"#222222"},"encoding":{"text":{"field":"t"}}},
{"transform":[{"filter":"datum.p=='yt'"}],"mark":{"type":"text","align":"center","baseline":"middle","fontSize":20,"angle":270,"xOffset":-59,"fill":"#222222"},"encoding":{"text":{"field":"t"}}}
]}
